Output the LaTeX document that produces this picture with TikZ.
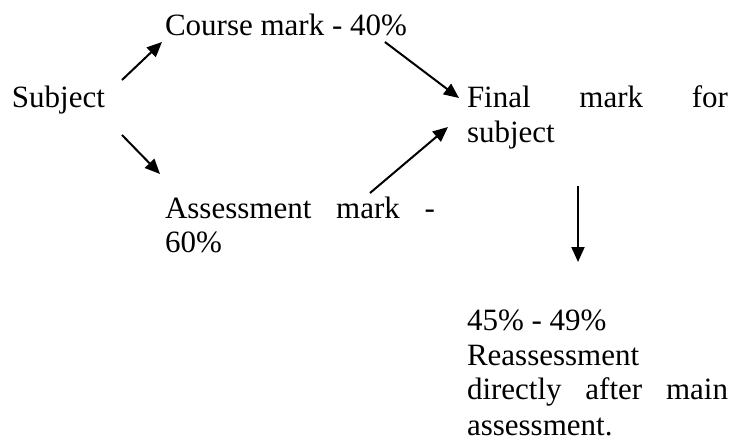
\documentclass[tikz,border=0pt]{standalone}
\usepackage{fontspec}
\setmainfont{Liberation Serif}
\usetikzlibrary{arrows.meta}
\tikzset{
  txt/.style={inner sep=0pt, outer sep=0pt, anchor=base west, font=\fontsize{31}{35}\selectfont},
  arr/.style={line width=2pt, -{Triangle[length=15pt,width=13pt]}}
}
\begin{document}
\begin{tikzpicture}[x=1pt,y=-1pt]
\useasboundingbox (0,0) rectangle (732,444);
\node[txt] (subj) at (12,108) {Subject};
\node[txt] (course) at (165,36) {Course mark - 40\%};
\node[txt] (final) at (467,108) {\vtop{\baselineskip=35pt\hbox to 261pt{Final\hfill mark\hfill for}\hbox{subject}}};
\node[txt] (assess) at (165,218) {\vtop{\baselineskip=35pt\hbox to 270pt{Assessment\hfill mark\hfill -}\hbox{60\%}}};
\node[txt] (reass) at (467,330) {\vtop{\baselineskip=35pt\hbox{45\% - 49\%}\hbox{Reassessment}\hbox to 261pt{directly\hfill after\hfill main}\hbox{assessment.}}};
\draw[arr] ([shift={(17,-28)}]subj.base east) -- ([shift={(-3,6)}]course.base west);
\draw[arr] ([shift={(17,27)}]subj.base east) -- ([shift={(-5,-44)}]assess.base west);
\draw[arr] ([shift={(-22,6)}]course.base east) -- ([shift={(-8,-10)}]final.base west);
\draw[arr] ([shift={(205,-25)}]assess.base west) -- ([shift={(-19,19)}]final.base west);
\draw[arr] ([shift={(111,78)}]final.base west) -- ([shift={(111,-68)}]reass.base west);
\end{tikzpicture}
\end{document}
